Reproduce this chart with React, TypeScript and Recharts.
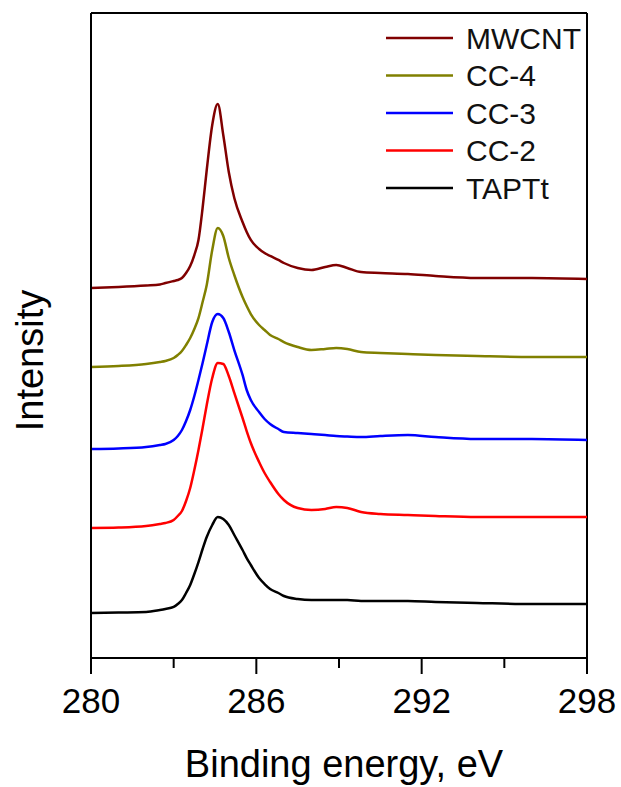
import { LineChart, Line, XAxis, YAxis, Legend, ReferenceLine } from 'recharts';

// binding energy grid (eV)
const energy = [
  280, 281, 282, 282.5, 282.7, 283, 283.15, 283.3, 283.45, 283.6, 283.75, 283.9, 284.05, 284.2, 284.4, 284.6,
  284.8, 285, 285.2, 285.5, 285.65, 285.8, 286.1, 286.3, 286.5, 286.8, 287, 287.5, 288, 288.5, 288.9, 289.3,
  289.8, 290.5, 291.5, 292.5, 294, 296, 298,
];

// stacked intensities (arbitrary units, offset per sample)
const mwcnt = [
  57.36, 57.52, 57.75, 57.91, 58.14, 58.45, 58.6, 58.91, 59.69, 60.78, 62.48, 64.81, 69.77, 75.66, 82.64, 85.89,
  81.09, 75.35, 71.32, 67.6, 66.05, 64.81, 63.41, 62.79, 62.33, 61.71, 61.24, 60.47, 60.16, 60.62, 60.93, 60.47,
  59.84, 59.69, 59.53, 59.22, 58.91, 58.91, 58.76,
];
const cc4 = [
  45.12, 45.27, 45.58, 45.89, 46.05, 46.51, 46.98, 47.6, 48.53, 49.61, 51.01, 52.71, 55.19, 57.83, 63.26, 66.67,
  65.43, 62.02, 59.38, 55.97, 54.57, 53.33, 51.63, 50.85, 50.08, 49.46, 48.99, 48.22, 47.75, 47.91, 48.06, 47.91,
  47.44, 47.29, 47.13, 46.98, 46.82, 46.67, 46.67,
];
const cc3 = [
  32.4, 32.48, 32.71, 33.02, 33.18, 33.8, 34.42, 35.35, 36.74, 38.45, 40.62, 43.1, 45.74, 48.53, 52.09, 53.33,
  52.71, 50.54, 47.75, 43.88, 41.55, 40.0, 38.14, 37.05, 36.28, 35.5, 35.04, 34.88, 34.73, 34.57, 34.42, 34.34,
  34.26, 34.42, 34.57, 34.26, 33.95, 33.95, 33.8,
];
const cc2 = [
  20.16, 20.23, 20.47, 20.78, 20.93, 21.4, 22.02, 22.79, 24.34, 26.36, 29.15, 32.25, 35.66, 39.22, 43.41, 45.74,
  45.58, 43.72, 41.09, 37.21, 35.19, 33.33, 30.39, 28.68, 27.29, 25.43, 24.5, 23.26, 22.95, 23.1, 23.41, 23.26,
  22.64, 22.33, 22.17, 22.02, 21.86, 21.86, 21.86,
];
const taptt = [
  6.98, 7.05, 7.13, 7.44, 7.6, 7.91, 8.37, 8.99, 10.08, 11.32, 13.02, 14.88, 16.9, 18.76, 20.62, 21.86,
  21.55, 20.62, 19.07, 16.74, 15.5, 14.42, 12.4, 11.47, 10.7, 10.08, 9.61, 9.15, 8.99, 8.99, 8.99, 8.99,
  8.84, 8.84, 8.84, 8.68, 8.53, 8.37, 8.37,
];

const xTicks = [280, 283, 286, 289, 292, 295, 298];
const xTickLabels = [280, 286, 292, 298];

const series = [
  { key: 'mwcnt', name: 'MWCNT', color: '#800000', values: mwcnt },
  { key: 'cc4', name: 'CC-4', color: '#808000', values: cc4 },
  { key: 'cc3', name: 'CC-3', color: '#0000ff', values: cc3 },
  { key: 'cc2', name: 'CC-2', color: '#ff0000', values: cc2 },
  { key: 'taptt', name: 'TAPTt', color: '#000000', values: taptt },
];

const data = energy.map((e, i) => {
  const row: Record<string, number> = { energy: e };
  series.forEach((s) => {
    row[s.key] = s.values[i];
  });
  return row;
});

const FONT = '"Liberation Sans", Arial, sans-serif';

const XTick = (props: any) => {
  const { x, y, payload } = props;
  const major = xTickLabels.includes(payload.value);
  return (
    <g>
      <line x1={x} x2={x} y1={y} y2={y + (major ? 16 : 10)} stroke="#000" strokeWidth={2} />
      {major && (
        <text x={x} y={y + 55} textAnchor="middle" fontSize={35} fontFamily={FONT} fill="#000">
          {payload.value}
        </text>
      )}
    </g>
  );
};

const XTitle = (props: any) => {
  const vb = props.viewBox || { x: 91, y: 658, width: 496, height: 129 };
  return (
    <text x={vb.x + vb.width / 2 + 5} y={vb.y + 119} textAnchor="middle" fontSize={38} fontFamily={FONT} fill="#000">
      Binding energy, eV
    </text>
  );
};

const YTitle = (props: any) => {
  const vb = props.viewBox || { x: 0, y: 13, width: 91, height: 645 };
  const cx = vb.x + 43;
  const cy = vb.y + vb.height / 2 + 25;
  return (
    <text x={cx} y={cy} transform={`rotate(-90 ${cx} ${cy})`} textAnchor="middle" fontSize={38} fontFamily={FONT} fill="#000">
      Intensity
    </text>
  );
};

const LegendBox = (props: any) => {
  const payload = props.payload || [];
  const items = series
    .map((s) => payload.find((p: any) => p.value === s.name))
    .filter(Boolean);
  return (
    <svg width={230} height={200} style={{ display: 'block' }}>
      {items.map((item: any, i: number) => {
        const cy = 30 + i * 37.5;
        return (
          <g key={item.value}>
            <line x1={8} x2={75} y1={cy} y2={cy} stroke={item.color} strokeWidth={2.5} />
            <text x={88} y={cy + 10.7} fontSize={30} fontFamily={FONT} fill="#111">
              {item.value}
            </text>
          </g>
        );
      })}
    </svg>
  );
};

export default function App() {
  return (
    <div style={{ position: 'absolute', top: 0, left: 0 }}>
      <LineChart width={621} height={787} data={data} margin={{ top: 13, right: 34, left: 0, bottom: 0 }}>
        <XAxis
          dataKey="energy"
          type="number"
          domain={[280, 298]}
          ticks={xTicks}
          interval={0}
          tickSize={0}
          tickMargin={0}
          tick={<XTick />}
          tickLine={false}
          height={129}
          axisLine={{ stroke: '#000', strokeWidth: 2 }}
          label={<XTitle />}
        />
        <YAxis
          type="number"
          domain={[0, 100]}
          width={91}
          tick={false}
          tickLine={false}
          axisLine={{ stroke: '#000', strokeWidth: 2 }}
          label={<YTitle />}
        />
        <ReferenceLine y={100} stroke="#000" strokeWidth={2} />
        <ReferenceLine x={298} stroke="#000" strokeWidth={2} />
        <Legend
          layout="vertical"
          align="center"
          verticalAlign="middle"
          content={<LegendBox />}
          wrapperStyle={{ top: 8, left: 378, width: 230, height: 200 }}
        />
        {series.map((s) => (
          <Line
            key={s.key}
            type="monotone"
            dataKey={s.key}
            name={s.name}
            stroke={s.color}
            strokeWidth={2.5}
            dot={false}
            activeDot={false}
            isAnimationActive={false}
          />
        ))}
      </LineChart>
    </div>
  );
}
